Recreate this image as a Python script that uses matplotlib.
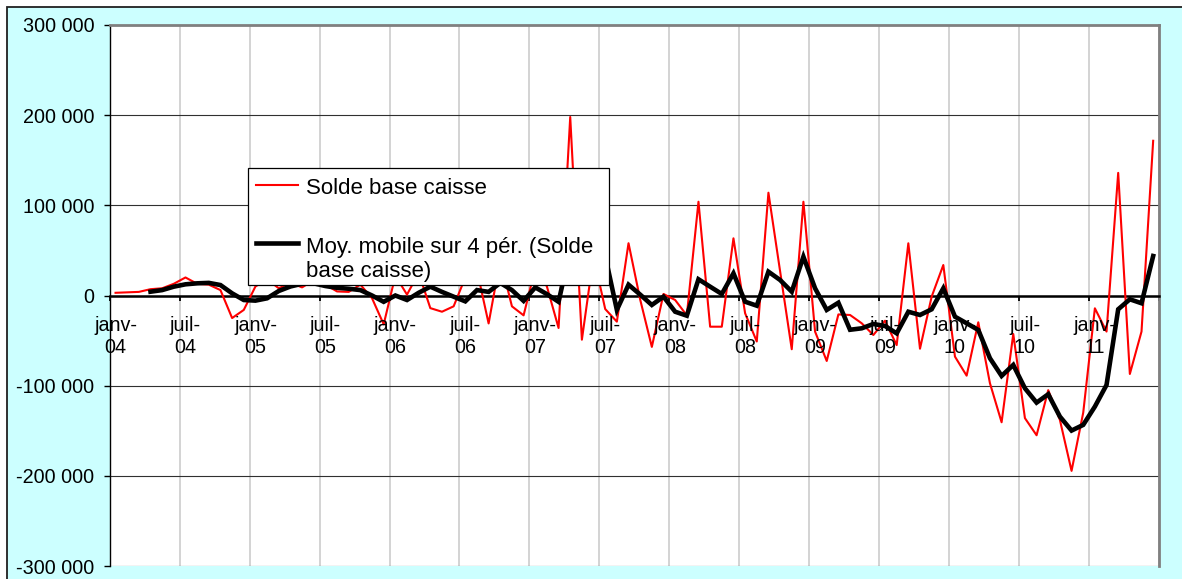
import numpy as np
import matplotlib
matplotlib.use('Agg')
import matplotlib.pyplot as plt
from matplotlib.patches import Rectangle
from matplotlib.lines import Line2D

plt.rcParams['font.family'] = 'Liberation Sans'

# Solde base caisse, mensuel de janv-04 a juin-11
solde = [3000, 3500, 4000, 7000, 8000, 13000, 20000, 13000, 12000, 6000,
         -25000, -16000, 10000, 18000, 8000, 14000, 9000, 17000, 12000, 4500,
         4000, 12000, -3000, -32000, 22000, 1000, 25000, -14000, -18000, -12000,
         20000, 28000, -31000, 40000, -12000, -22000, 30000, 10000, -36000, 198000,
         -49000, 43500, -15000, -29000, 58000, -4500, -57000, 1700, -5000, -22000,
         104000, -34600, -34600, 63400, -19700, -51000, 114000, 27000, -59600, 104000,
         -40000, -72600, -21000, -21600, -30800, -43800, -28000, -55000, 57900, -59000,
         -1300, 33800, -67800, -88900, -29700, -97300, -140600, -42700, -136000, -155000,
         -105000, -138000, -194500, -130000, -14200, -40000, 136000, -87000, -40000, 171600]

# Moy. mobile sur 4 per.
moy_mobile = [np.nan, np.nan, np.nan, 4200, 6000, 9800, 12400, 13500, 14000, 11600,
              2400, -5000, -5700, -3100, 5000, 10000, 13000, 13500, 10500, 8500,
              7500, 6000, 0, -7000, 0, -5000, 3000, 9800, 4000, -1300,
              -6500, 6000, 4000, 14000, 6000, -6000, 9000, 1500, -7000, 50500,
              30800, 39000, 44000, -16000, 12000, 1000, -10500, -1300, -18000, -22400,
              18000, 9800, 1700, 24600, -6900, -11300, 26400, 17200, 4200, 43000,
              8000, -16000, -8000, -38000, -36400, -31600, -33800, -42000, -18000, -21600,
              -15300, 8000, -23500, -30800, -38200, -69600, -89200, -77000, -102900, -118800,
              -109500, -134300, -149800, -143500, -123200, -99200, -15300, -4200, -8600, 43800]

tick_labels = ['janv-04', 'juil-04', 'janv-05', 'juil-05', 'janv-06', 'juil-06',
               'janv-07', 'juil-07', 'janv-08', 'juil-08', 'janv-09', 'juil-09',
               'janv-10', 'juil-10', 'janv-11']
y_ticks = [-300000, -200000, -100000, 0, 100000, 200000, 300000]
y_labels = ['-300 000', '-200 000', '-100 000', '0', '100 000', '200 000', '300 000']

W, H = 1182, 579
fig = plt.figure(figsize=(W / 100, H / 100), dpi=100)
fig.patch.set_facecolor('white')

def fx(x):
    return x / W

def fy(y):
    return 1 - y / H

# fond cyan avec cadre
fig.add_artist(Rectangle((fx(7), -0.05), 1.1, fy(7.3) + 0.05, transform=fig.transFigure,
                         facecolor='#CCFFFF', edgecolor='#202020', lw=1.3, zorder=-10))

ax = fig.add_axes([fx(109.7), fy(566), fx(1159) - fx(109.7), fy(25) - fy(566)])
ax.set_facecolor('white')

x = np.arange(len(solde))
ax.plot(x, solde, color='#FF0000', lw=1.5, zorder=3)
ax.plot(x, moy_mobile, color='black', lw=3.3, zorder=4, solid_joinstyle='miter')

ax.set_xlim(-0.5, len(solde) - 0.5)
ax.set_ylim(-300000, 300000)

ax.set_yticks(y_ticks)
ax.set_yticklabels(y_labels, fontsize=14.2)
ax.tick_params(axis='y', direction='out', length=4.6, width=1, pad=6.5, colors='black')

ax.set_xticks(np.arange(-0.5, len(solde), 6))
ax.set_xticklabels([])
ax.tick_params(axis='x', direction='out', length=3.8, width=1.3)
ax.xaxis.grid(True, color='#C8C8C8', lw=1.1)
ax.yaxis.grid(True, color='#303030', lw=0.8)
ax.set_axisbelow(True)

ax.spines['bottom'].set_position(('data', 0))
ax.spines['bottom'].set_linewidth(1.8)
ax.spines['bottom'].set_zorder(2.5)
ax.spines['left'].set_linewidth(1.0)
for s in ['top', 'right']:
    ax.spines[s].set_color('#808080')
    ax.spines[s].set_linewidth(2.0)

for k, lab in enumerate(tick_labels):
    ax.annotate(lab.replace('-', '-\n', 1), (k * 6, 0), xytext=(0, -14.5),
                textcoords='offset points', ha='center', va='top',
                fontsize=14.2, linespacing=1.2, zorder=5)

# legende
fig.add_artist(Rectangle((fx(248), fy(285)), fx(609) - fx(248), fy(168) - fy(285),
                         transform=fig.transFigure, facecolor='white',
                         edgecolor='black', lw=0.9, zorder=5))
fig.add_artist(Line2D([fx(256), fx(298)], [fy(185), fy(185)], transform=fig.transFigure,
                      color='#FF0000', lw=1.5, zorder=6))
fig.add_artist(Line2D([fx(256), fx(298)], [fy(243), fy(243)], transform=fig.transFigure,
                      color='black', lw=3.3, zorder=6))
fig.text(fx(306), fy(193.5), 'Solde base caisse', fontsize=16, va='baseline', zorder=6)
fig.text(fx(306), fy(253), 'Moy. mobile sur 4 pér. (Solde', fontsize=16, va='baseline', zorder=6)
fig.text(fx(306), fy(277), 'base caisse)', fontsize=16, va='baseline', zorder=6)

plt.savefig('out.png', dpi=100)
